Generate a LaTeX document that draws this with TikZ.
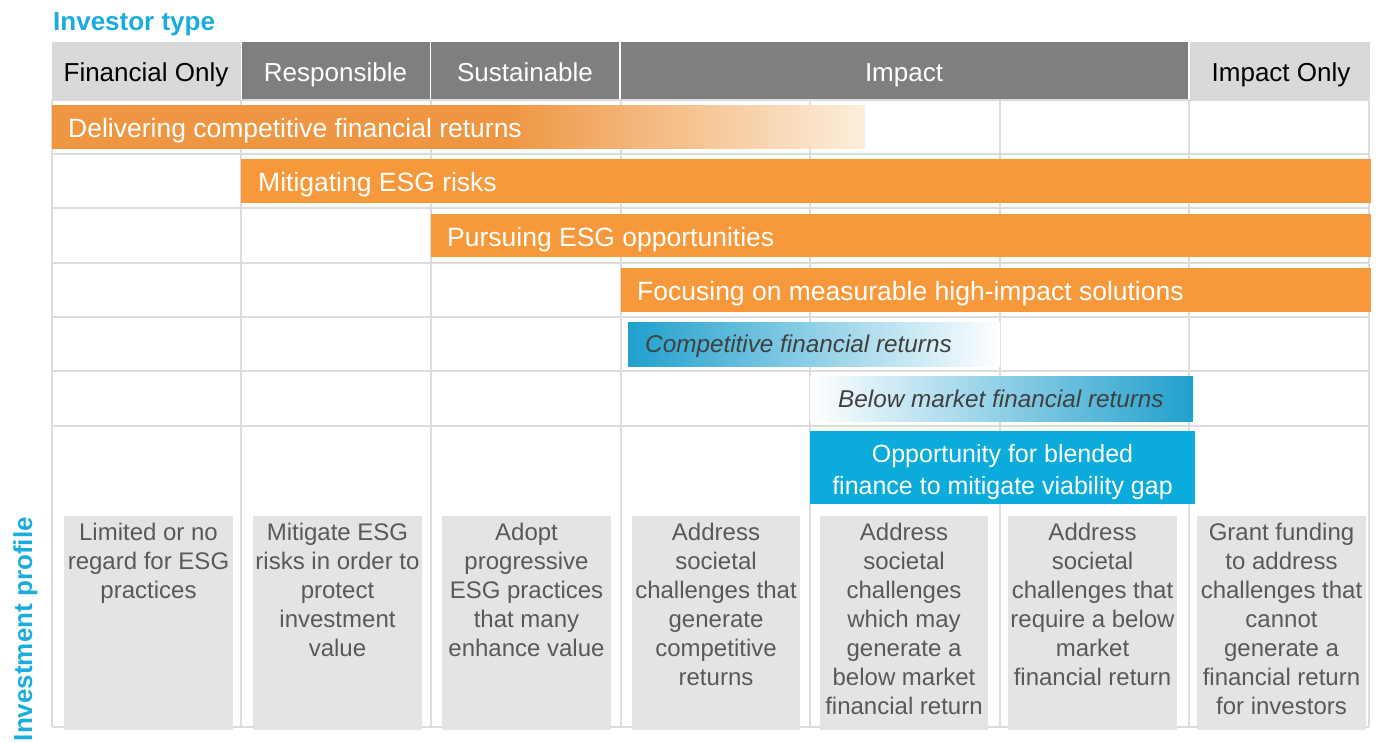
\documentclass[tikz,border=0pt]{standalone}
\usepackage{fontspec}
\setmainfont{Liberation Sans}
\definecolor{hdrdark}{HTML}{7F7F7F}
\definecolor{hdrlight}{HTML}{D9D9D9}
\definecolor{gridc}{HTML}{DCDCDC}
\definecolor{orangeA}{HTML}{EE9642}
\definecolor{orangeB}{HTML}{F7993B}
\definecolor{cream}{HTML}{FCEEDC}
\definecolor{blueG}{HTML}{20A0CD}
\definecolor{blueS}{HTML}{0BACDB}
\definecolor{boxc}{HTML}{E4E4E4}
\definecolor{boxtxt}{HTML}{595959}
\definecolor{ttl}{HTML}{1AACDC}
\definecolor{itx}{HTML}{404040}
\pgfdeclarehorizontalshading{orangefade}{100bp}{color(0bp)=(orangeA); color(25bp)=(orangeA); color(53bp)=(orangeA); color(75bp)=(cream); color(100bp)=(cream)}
\tikzset{
  gridline/.style={draw=gridc,line width=2pt},
  hdrtext/.style={inner sep=0pt,anchor=base,font=\fontsize{26}{30}\selectfont},
  bartext/.style={inner sep=0pt,anchor=base west,text=white,font=\fontsize{26.5}{30}\selectfont},
  itext/.style={inner sep=0pt,anchor=base west,text=itx,font=\itshape\fontsize{24.3}{29}\selectfont},
  boxtext/.style={inner sep=0pt,anchor=north,align=center,text=boxtxt,font=\fontsize{24}{29}\selectfont},
  titletext/.style={inner sep=0pt,text=ttl,font=\bfseries\fontsize{26}{30}\selectfont}
}
\begin{document}
\begin{tikzpicture}[x=1pt,y=-1pt]
\useasboundingbox (0,0) rectangle (1380,742);
% grid
\foreach \x in {52,241,431,621,810,1000,1189,1369} \draw[gridline] (\x,100) -- (\x,727);
\foreach \y in {100,153.5,208,262.5,317,371,426,727} \draw[gridline] (52,\y) -- (1369,\y);
% header
\fill[hdrlight] (52,42) rectangle (240.5,99);
\fill[hdrdark] (242,42) rectangle (429.5,99);
\fill[hdrdark] (431,42) rectangle (619,99);
\fill[hdrdark] (620.5,42) rectangle (1187.5,99);
\fill[hdrlight] (1190,42) rectangle (1370,99);
\node[hdrtext] (h1) at (146,81.5) {Financial Only};
\node[hdrtext,text=white] (h2) at (335.5,81.5) {Responsible};
\node[hdrtext,text=white] (h3) at (525,81.5) {Sustainable};
\node[hdrtext,text=white] (h4) at (904,81.5) {Impact};
\node[hdrtext] (h5) at (1281,81.5) {Impact Only};
% titles
\node[titletext,anchor=base west] (ttype) at (53,30) {Investor type};
\node[titletext,rotate=90,anchor=base east] (tprof) at (32,517) {Investment profile};
% orange bars
\shade[shading=orangefade] (52,105) rectangle (865,148);
\node[bartext] (b1) at (68,137) {Delivering competitive financial returns};
\fill[orangeB] (241,159) rectangle (1371,203);
\node[bartext] (b2) at (258,191.5) {Mitigating ESG risks};
\fill[orangeB] (431,214) rectangle (1371,257);
\node[bartext] (b3) at (447,246) {Pursuing ESG opportunities};
\fill[orangeB] (621,268) rectangle (1371,312);
\node[bartext] (b4) at (637,300.5) {Focusing on measurable high-impact solutions};
% blue bars
\shade[left color=blueG,right color=white] (628,322) rectangle (1000,366);
\node[itext] (b5) at (645,352.6) {Competitive financial returns};
\shade[left color=white,right color=blueG] (810,376) rectangle (1193,421);
\node[itext] (b6) at (838,407) {Below market financial returns};
\fill[blueS] (810,431) rectangle (1195,504);
\node[inner sep=0pt,align=center,text=white,font=\fontsize{25}{32}\selectfont] (b7) at (1002.5,472) {Opportunity for blended\\finance to mitigate viability gap};
% profile boxes
\fill[boxc] (64,516) rectangle (233,730);
\fill[boxc] (253,516) rectangle (422,730);
\fill[boxc] (442,516) rectangle (611,730);
\fill[boxc] (632,516) rectangle (800,730);
\fill[boxc] (820,516) rectangle (988,730);
\fill[boxc] (1008,516) rectangle (1177,730);
\fill[boxc] (1197,516) rectangle (1366,730);
\node[boxtext] (p1) at (148.5,523) {Limited or no\\regard for ESG\\practices};
\node[boxtext] (p2) at (337.5,523) {Mitigate ESG\\risks in order to\\protect\\investment\\value};
\node[boxtext] (p3) at (526.5,523) {Adopt\\progressive\\ESG practices\\that many\\enhance value};
\node[boxtext] (p4) at (716,523) {Address\\societal\\challenges that\\generate\\competitive\\returns};
\node[boxtext] (p5) at (904,523) {Address\\societal\\challenges\\which may\\generate a\\below market\\financial return};
\node[boxtext] (p6) at (1092.5,523) {Address\\societal\\challenges that\\require a below\\market\\financial return};
\node[boxtext] (p7) at (1281.5,523) {Grant funding\\to address\\challenges that\\cannot\\generate a\\financial return\\for investors};
\end{tikzpicture}
\end{document}
